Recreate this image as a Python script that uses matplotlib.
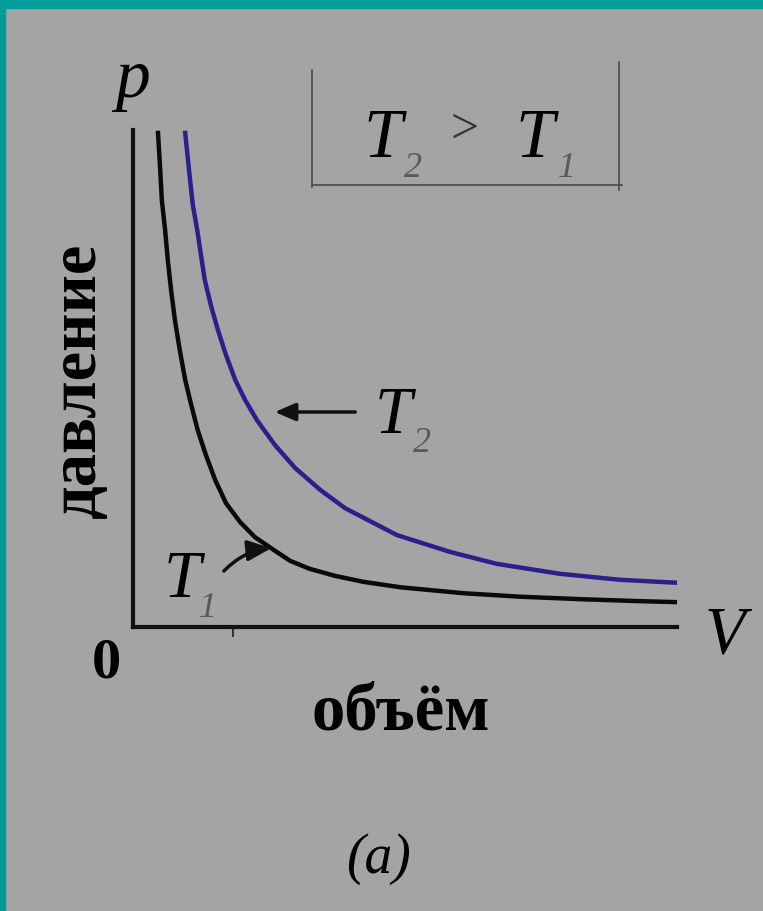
import matplotlib.pyplot as plt
from matplotlib.patches import Rectangle
from matplotlib.lines import Line2D

W, H = 763, 911

# isotherm T1 (black)
v_t1 = [4.6, 5.0, 5.3, 5.9, 6.4, 7.0, 7.7, 8.6, 9.6, 10.7, 11.9, 13.4, 15.1, 17.1,
        19.7, 22.4, 25.6, 28.9, 32.5, 37.1, 42.3, 49.1, 60.7, 71.1, 82.2, 93.2, 100]
p_t1 = [99.4, 92.0, 85.9, 79.9, 73.8, 67.8, 61.8, 55.7, 49.7, 44.7, 39.6, 34.6, 29.6, 24.9,
        21.1, 18.1, 15.7, 13.3, 11.7, 10.3, 9.1, 8.0, 6.8, 6.1, 5.6, 5.2, 5.0]

# isotherm T2 (blue)
v_t2 = [9.6, 10.1, 10.5, 11.0, 11.8, 12.5, 13.2, 14.3, 15.6, 17.1, 18.8, 20.6,
        22.8, 26.1, 29.8, 34.4, 39.0, 48.5, 58.3, 66.9, 78.5, 89.5, 100]
p_t2 = [99.4, 94.0, 89.9, 84.9, 79.9, 74.8, 69.8, 64.8, 59.8, 54.7, 49.7, 45.7,
        41.6, 36.6, 32.0, 27.6, 23.9, 18.5, 15.1, 12.7, 10.7, 9.5, 8.9]

BG = '#a4a4a4'
TEAL = '#029c9a'
BLUE = '#2a208c'
SERIF = ['Liberation Serif', 'DejaVu Serif']


def fx(x):
    return x / W


def fy(y):
    return 1 - y / H


fig = plt.figure(figsize=(W / 100, H / 100), dpi=100, facecolor=BG)
fig.patches.append(Rectangle((0, fy(8)), 1, 8 / H, transform=fig.transFigure,
                             color=TEAL, zorder=5))
fig.patches.append(Rectangle((0, 0), 5 / W, 1, transform=fig.transFigure,
                             color=TEAL, zorder=5))

ax = fig.add_axes([fx(133), fy(627), fx(677) - fx(133), fy(130) - fy(627)])
ax.set_facecolor('none')
ax.set_xlim(0, 100)
ax.set_ylim(0, 100)
for s in ['top', 'right']:
    ax.spines[s].set_visible(False)
for s in ['left', 'bottom']:
    ax.spines[s].set_linewidth(3)
    ax.spines[s].set_color('#111111')
ax.set_xticks([18.4])
ax.set_xticklabels([])
ax.tick_params(axis='x', length=7, width=1.5, color='#333333', direction='out')
ax.set_yticks([])

ax.plot(v_t1, p_t1, color='#0a0a0a', lw=3.2, solid_joinstyle='round')
ax.plot(v_t2, p_t2, color=BLUE, lw=3.2, solid_joinstyle='round')

# axis letters and captions
fig.text(fx(132), fy(97), 'p', family=SERIF, style='italic', fontsize=50,
         ha='center', va='baseline')
fig.text(fx(725), fy(652), 'V', family=SERIF, style='italic', fontsize=48,
         ha='center', va='baseline')
fig.text(fx(106), fy(678), '0', family=SERIF, weight='bold', fontsize=42,
         ha='center', va='baseline')
fig.text(fx(78), fy(380), 'давление', family=SERIF, weight='bold', fontsize=48,
         rotation=90, ha='center', va='center')
fig.text(fx(401), fy(730), 'объём', family=SERIF, weight='bold', fontsize=48,
         ha='center', va='baseline')
fig.text(fx(378), fy(859), '(a)', family=SERIF, style='italic', fontsize=40,
         ha='center', va='center')

# box with T2 > T1
for (x0, y0, x1, y1) in [(312, 70, 312, 187), (312, 185, 622, 185), (619, 62, 619, 190)]:
    fig.add_artist(Line2D([fx(x0), fx(x1)], [fy(y0), fy(y1)], color='#4a4a4a', lw=1.2))
fig.text(fx(383), fy(157), 'T', family=SERIF, style='italic', fontsize=50,
         ha='center', va='baseline')
fig.text(fx(413), fy(177), '2', family=SERIF, style='italic', fontsize=26,
         ha='center', va='baseline', color='#5a5a5a')
fig.text(fx(465), fy(130), '>', family=SERIF, fontsize=36,
         ha='center', va='center', color='#333333')
fig.text(fx(535), fy(157), 'T', family=SERIF, style='italic', fontsize=50,
         ha='center', va='baseline')
fig.text(fx(567), fy(177), '1', family=SERIF, style='italic', fontsize=26,
         ha='center', va='baseline', color='#5a5a5a')

# curve labels with arrows
fig.text(fx(393), fy(433), 'T', family=SERIF, style='italic', fontsize=48,
         ha='center', va='baseline')
fig.text(fx(422), fy(452), '2', family=SERIF, style='italic', fontsize=26,
         ha='center', va='baseline', color='#5a5a5a')
ax.annotate('', xy=(272, H - 412), xytext=(358, H - 412),
            xycoords='figure pixels', textcoords='figure pixels',
            arrowprops=dict(arrowstyle='-|>,head_length=0.7,head_width=0.3',
                            color='#111111', lw=2.5, mutation_scale=18))

fig.text(fx(182), fy(597), 'T', family=SERIF, style='italic', fontsize=48,
         ha='center', va='baseline')
fig.text(fx(208), fy(617), '1', family=SERIF, style='italic', fontsize=26,
         ha='center', va='baseline', color='#5a5a5a')
ax.annotate('', xy=(274, H - 548), xytext=(222, H - 573),
            xycoords='figure pixels', textcoords='figure pixels',
            arrowprops=dict(arrowstyle='-|>,head_length=0.8,head_width=0.35',
                            color='#111111', lw=2.5, mutation_scale=18,
                            connectionstyle='arc3,rad=-0.2'))

fig.savefig('out.png', dpi=100, facecolor=BG)
